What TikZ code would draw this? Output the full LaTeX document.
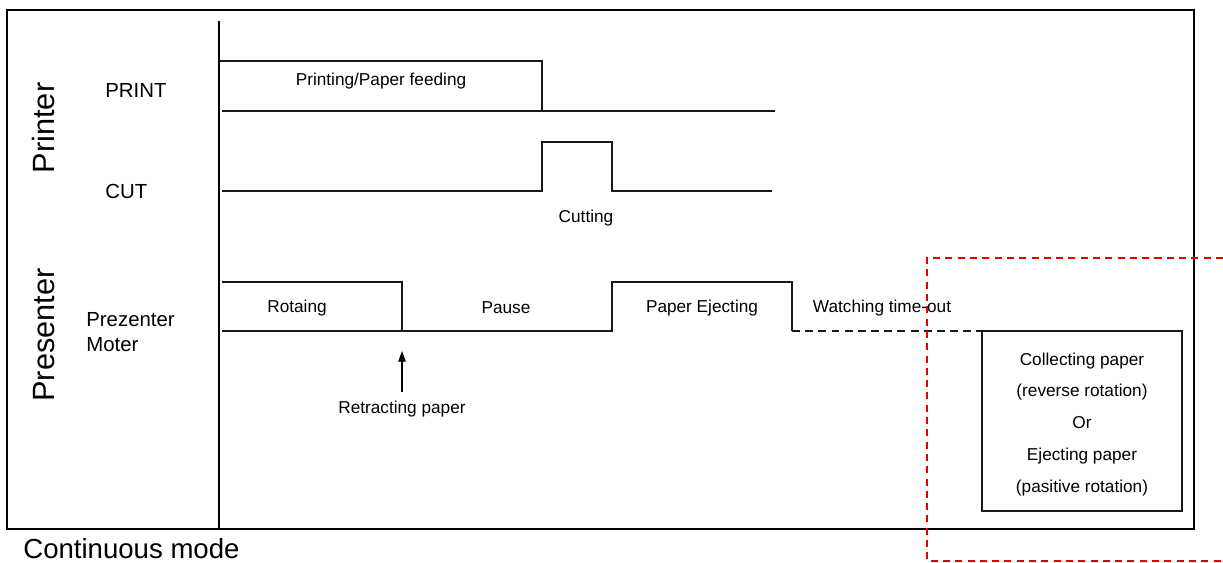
\documentclass[tikz,border=0pt]{standalone}
\usepackage{fontspec}
\setmainfont{Liberation Sans}
\usetikzlibrary{positioning,arrows.meta}

\begin{document}
\begin{tikzpicture}[
  x=0.02cm, y=-0.02cm,
  >={Triangle[length=6pt,width=4.2pt]},
  frameline/.style={draw=black, line width=0.85pt},
  divline/.style={draw=black, line width=0.6pt},
  sigline/.style={draw=black!90, line width=1.4pt},
  waitline/.style={sigline, dash pattern=on 4.5pt off 3pt},
  lbl/.style={font=\fontsize{9.8}{11}\selectfont, inner sep=0pt},
  chanlbl/.style={font=\fontsize{11.6}{14.2}\selectfont, inner sep=0pt, align=left},
  grouplbl/.style={font=\fontsize{17.5}{20}\selectfont, rotate=90, inner sep=0pt},
  resultbox/.style={
    rectangle, draw=black!90, line width=1.2pt,
    minimum width=4cm, minimum height=3.6cm
  },
  resulttext/.style={align=center, inner sep=0pt, font=\fontsize{9.8}{18.1}\selectfont},
  zonebox/.style={draw=red!90!black, line width=0.7pt, dash pattern=on 4pt off 3pt}
]
\useasboundingbox (0,0) rectangle (1223,563);

% frame and divider
\draw[frameline] (7,10) rectangle (1194,529);
\draw[divline] (219,21) -- (219,529);

\node[grouplbl] (printer) at (44,128) {Printer};
\node[grouplbl] (presenter) at (44,335) {Presenter};

\node[chanlbl, anchor=west] (printlbl) at (105,90) {PRINT};
\node[chanlbl, anchor=west] (cutlbl) at (105,191) {CUT};
\node[chanlbl, anchor=west] (motorlbl) at (86,332) {Prezenter\\Moter};

% PRINT
\coordinate (p0) at (219,61);
\coordinate (p1) at (542,61);
\coordinate (p2) at (542,111);
\coordinate (pl0) at (222,111);
\coordinate (pl1) at (775,111);
\draw[sigline] (p0) -- (p1) -- (p2);
\draw[sigline] (pl0) -- (pl1);
\node[lbl] (feedlbl) at (381,81) {Printing/Paper feeding};

% CUT
\coordinate (c0) at (222,191);
\coordinate (c1) at (542,191);
\coordinate (c2) at (612,191);
\coordinate (c3) at (772,191);
\draw[sigline] (c0) -- (c1) -- ++(0,-49) -| (c2) -- (c3);
\node[lbl] (cutting) at (586,218) {Cutting};

% presenter motor
\coordinate (m0) at (222,282);
\coordinate (m1) at (402,282);
\coordinate (m2) at (402,331);
\coordinate (ml0) at (222,331);
\coordinate (e0) at (612,331);
\coordinate (e1) at (792,331);
\draw[sigline] (m0) -- (m1) -- (m2);
\draw[sigline] (ml0) -- (e0) -- ++(0,-49) -| (e1);

\node[resultbox] (endbox) at (1082,421) {};
\node[resulttext] (endtext) at ([yshift=-1.8pt]endbox.center) {Collecting paper\\(reverse rotation)\\Or\\Ejecting paper\\(pasitive rotation)};
\draw[waitline] (e1) -- (e1 -| endbox.west);

\node[lbl] (rotlbl) at (297,308) {Rotaing};
\node[lbl] (pauselbl) at (506,308) {Pause};
\node[lbl] (ejectlbl) at (702,308) {Paper Ejecting};
\node[lbl] (waitlbl) at (882,308) {Watching time-out};

\node[lbl] (retract) at (402,409) {Retracting paper};
\coordinate (arrbase) at (402,392);
\coordinate (arrtip) at (402,351);
\draw[->, line width=0.6pt] (arrbase) -- (arrtip);

% highlighted zone
\draw[zonebox] (1223,258) -- (927,258) -- (927,561) -- (1223,561);

\node[font=\fontsize{15.7}{18}\selectfont, inner sep=0pt, anchor=base west] (caption) at (23,558) {Continuous mode};

\end{tikzpicture}
\end{document}
